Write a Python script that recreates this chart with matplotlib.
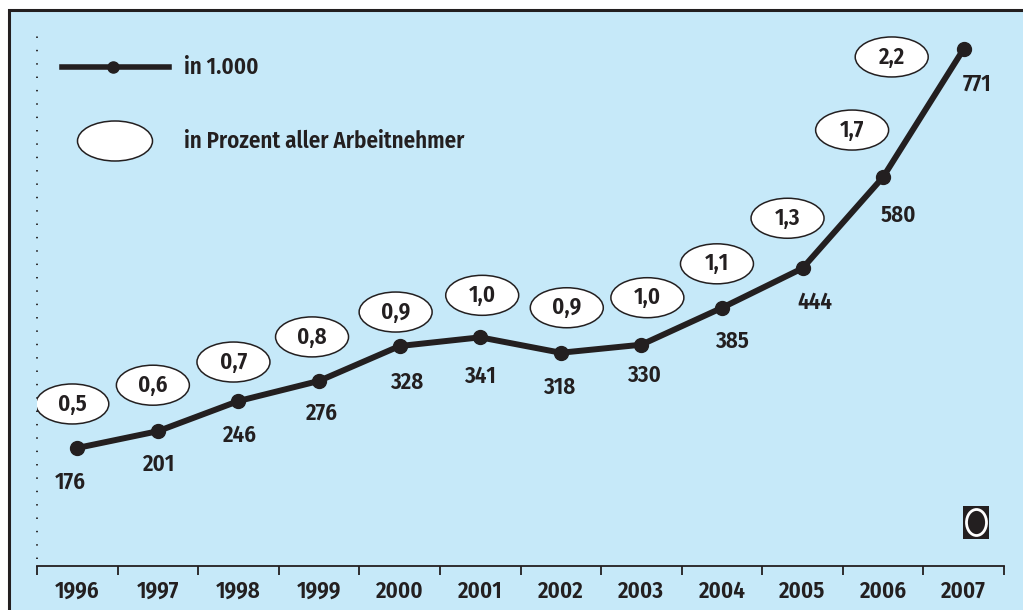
import matplotlib
matplotlib.use("Agg")
import matplotlib.pyplot as plt
from matplotlib.patches import Ellipse, Rectangle
from matplotlib.lines import Line2D
from matplotlib.transforms import Affine2D

# Data
years = [1996, 1997, 1998, 1999, 2000, 2001, 2002, 2003, 2004, 2005, 2006, 2007]
workers = [176, 201, 246, 276, 328, 341, 318, 330, 385, 444, 580, 771]  # in 1.000
percent = ["0,5", "0,6", "0,7", "0,8", "0,9", "1,0", "0,9", "1,0", "1,1", "1,3", "1,7", "2,2"]

# Label placement (pixel offsets from the data point)
ell_off = [(-5, 44), (-5, 46), (-5, 39), (-7, 44), (-4, 34), (2, 42),
           (6, 45), (6, 47), (-5, 44), (-15, 50), (-31, 47), (-72, -8)]
val_off = [(-7, -34), (1, -33), (2, -34), (3, -32), (7, -36), (0, -39),
           (-2, -35), (3, -31), (10, -34), (12, -34), (15, -38), (13, -35)]

BG = "#c6e9f9"
INK = "#231f20"
FONT = dict(family=["Fira Sans Condensed", "Roboto Condensed", "DejaVu Sans"],
            fontweight="semibold")
FS = 16.5

W, H = 1023, 610
fig = plt.figure(figsize=(W / 100, H / 100), dpi=100)
fig.patch.set_facecolor("white")


def fx(x):
    return x / W


def fy(y):
    return 1 - y / H


# background frame
fig.patches.append(Rectangle((fx(9), fy(H + 20)), fx(W + 20), (H + 10) / H,
                             transform=fig.transFigure, facecolor=BG,
                             edgecolor=INK, linewidth=2.2, zorder=-5))

ax = fig.add_axes([fx(37), fy(566), (1004 - 37) / W, (566 - 10) / H])
ax.set_zorder(2)
ax.set_facecolor("none")
ax.set_xlim(-0.5, len(years) - 0.5)
ax.set_ylim(0, 829.1)
for s in ["top", "right", "left"]:
    ax.spines[s].set_visible(False)
ax.spines["bottom"].set_color(INK)
ax.spines["bottom"].set_linewidth(1.3)
ax.set_yticks([])

idx = list(range(len(years)))
ax.set_xticks([i - 0.5 for i in range(len(years) + 1)])
ax.set_xticklabels([])
ax.tick_params(axis="x", which="major", direction="out", length=6.5,
               width=1.3, color=INK)
ax.set_xticks(idx, minor=True)
ax.set_xticklabels([str(y) for y in years], minor=True, color=INK, fontsize=FS, **FONT)
ax.tick_params(axis="x", which="minor", length=0, pad=10)

# dotted left guide
ax.plot([-0.5, -0.5], [10, 800], color=INK, lw=1.3, ls=(0, (0.8, 6.6)),
        clip_on=False)

# main series
ax.plot(idx, workers, color=INK, lw=4.3, marker="o", ms=10, zorder=3)

ew = 73 / 80.6
eh = 40 / (556 / 829.1)
for i, v in enumerate(workers):
    dx, dy = ell_off[i]
    tr = ax.transData + Affine2D().translate(dx, dy)
    ax.add_patch(Ellipse((i, v), ew, eh, transform=tr, facecolor="white",
                         edgecolor=INK, lw=1.1, zorder=4))
    ax.annotate(percent[i], (i, v), xytext=(dx, dy), textcoords="offset pixels",
                ha="center", va="center", fontsize=FS, color=INK, zorder=5, **FONT)
    vx, vy = val_off[i]
    ax.annotate(str(v), (i, v), xytext=(vx, vy), textcoords="offset pixels",
                ha="center", va="center", fontsize=FS, color=INK, zorder=5, **FONT)

# legend
fig.lines.append(Line2D([fx(62), fx(169)], [fy(67), fy(67)], transform=fig.transFigure,
                        color=INK, lw=4.0))
fig.lines.append(Line2D([fx(113)], [fy(67)], transform=fig.transFigure,
                        color=INK, marker="o", ms=8))
fig.text(fx(184), fy(67), "in 1.000", ha="left", va="center", fontsize=FS, color=INK, **FONT)
fig.patches.append(Ellipse((fx(115), fy(141)), fx(75), 40 / H, transform=fig.transFigure,
                           facecolor="white", edgecolor=INK, lw=1.1))
fig.text(fx(184), fy(141), "in Prozent aller Arbeitnehmer", ha="left", va="center",
         fontsize=FS, color=INK, **FONT)

# logo
fig.patches.append(Rectangle((fx(963), fy(539)), fx(26), 33 / H, transform=fig.transFigure,
                             facecolor=INK, edgecolor="none"))
fig.patches.append(Ellipse((fx(976.5), fy(522.5)), fx(20), 26 / H, transform=fig.transFigure,
                           facecolor=INK, edgecolor="white", lw=2.0))

fig.savefig("out.png", dpi=100, facecolor=fig.get_facecolor())
